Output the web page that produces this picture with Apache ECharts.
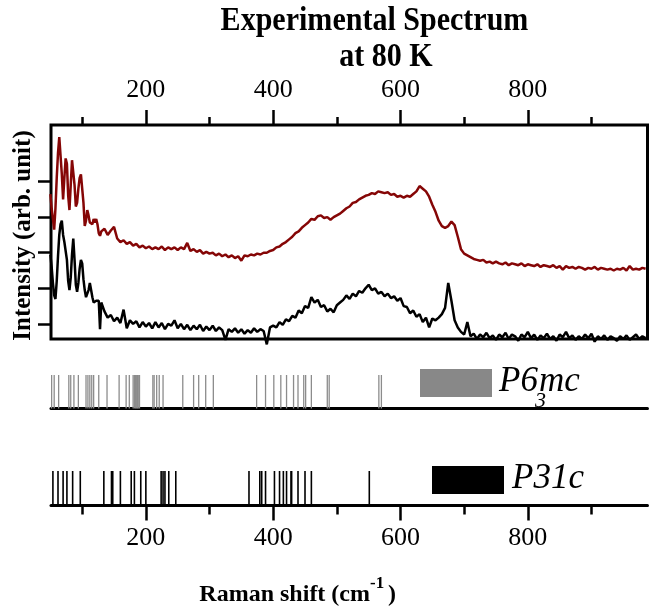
<!DOCTYPE html>
<html>
<head>
<meta charset="utf-8">
<script src="https://cdn.jsdelivr.net/npm/echarts@6/dist/echarts.min.js"></script>
<style>
  html, body { margin: 0; padding: 0; background: #fff; }
  #chart { width: 649px; height: 610px; }
</style>
</head>
<body>
<div id="chart"></div>
<script>
// Raman shift (cm-1) of the measured points
const ramanShift = [
  50, 52, 54, 56, 58, 60, 62, 64, 66, 68,
  70, 72, 74, 76, 78, 80, 82, 84, 86, 88,
  90, 92, 94, 96, 98, 100, 102, 104, 106, 108,
  110, 112, 114, 116, 118, 120, 122, 124, 126, 128,
  130,
  135, 140, 145, 150, 155, 160, 165, 170, 175, 180,
  185, 190, 195, 200, 205, 210, 215, 220, 225, 230,
  235, 240, 245, 250, 255, 260, 265, 270, 275, 280,
  285, 290, 295, 300, 305, 310, 315, 320, 325, 330,
  335, 340, 345, 350, 355, 360, 365, 370, 375, 380,
  385, 390, 395, 400, 405, 410, 415, 420, 425, 430,
  435, 440, 445, 450, 455, 460, 465, 470, 475, 480,
  485, 490, 495, 500, 505, 510, 515, 520, 525, 530,
  535, 540, 545, 550, 555, 560, 565, 570, 575, 580,
  585, 590, 595, 600, 605, 610, 615, 620, 625, 630,
  635, 640, 645, 650, 655, 660, 665, 670, 675, 680,
  685, 690, 695, 700, 705, 710, 715, 720, 725, 730,
  735, 740, 745, 750, 755, 760, 765, 770, 775, 780,
  785, 790, 795, 800, 805, 810, 815, 820, 825, 830,
  835, 840, 845, 850, 855, 860, 865, 870, 875, 880,
  885, 890, 895, 900, 905, 910, 915, 920, 925, 930,
  935, 940, 945, 950, 955, 960, 965, 970, 975, 980,
  985
];

// upper trace (dark red), arb. units
const spectrumRed = [
  7.3, 6.5, 5.9, 5.3, 6.5, 8.2, 9.6, 10.5, 10.6, 8.4,
  7.0, 8.2, 9.3, 9.0, 7.2, 6.4, 7.8, 9.2, 9.3, 7.8,
  6.6, 6.8, 7.6, 8.2, 8.4, 8.3, 6.8, 5.5, 5.8, 6.4,
  6.1, 5.7, 5.8, 5.6, 5.9, 5.7, 5.9, 5.6, 5.1, 4.95,
  5.2,
  5.35, 5.0, 5.25, 5.45, 4.8, 4.6, 4.7, 4.5, 4.6, 4.4,
  4.5, 4.3, 4.4, 4.25, 4.35, 4.2, 4.3, 4.2, 4.35, 4.15,
  4.3, 4.2, 4.3, 4.15, 4.3, 4.2, 4.55, 4.1, 4.2, 4.05,
  4.15, 3.95, 4.05, 3.95, 4.0, 3.85, 3.95, 3.8, 3.9, 3.75,
  3.85, 3.7, 3.8, 3.55, 3.85, 3.8, 3.9, 3.85, 3.95, 3.9,
  4.0, 4.0, 4.1, 4.15, 4.3, 4.35, 4.5, 4.6, 4.75, 4.9,
  5.1, 5.2, 5.4, 5.55, 5.7, 5.9, 5.85, 6.05, 6.1, 5.95,
  6.0, 5.85, 6.0, 6.1, 6.2, 6.35, 6.5, 6.6, 6.8, 6.85,
  7.0, 7.1, 7.2, 7.25, 7.35, 7.3, 7.45, 7.4, 7.35, 7.4,
  7.25, 7.3, 7.15, 7.2, 7.1, 7.2, 7.15, 7.3, 7.45, 7.75,
  7.6, 7.45, 7.15, 6.7, 6.3, 5.8, 5.5, 5.4, 5.5, 5.75,
  5.55, 4.9, 4.2, 3.95, 3.85, 3.75, 3.65, 3.6, 3.55, 3.6,
  3.45, 3.5, 3.4, 3.5, 3.4, 3.35, 3.45, 3.3, 3.4, 3.35,
  3.3, 3.4, 3.25, 3.35, 3.3, 3.25, 3.35, 3.2, 3.3, 3.25,
  3.2, 3.3, 3.15, 3.25, 3.05, 3.25, 3.15, 3.2, 3.1, 3.2,
  3.15, 3.05, 3.15, 3.1, 3.2, 3.05, 3.15, 3.1, 3.05, 3.1,
  3.0, 3.1, 3.05, 3.15, 3.0, 3.25, 3.05, 3.1, 3.05, 3.15,
  3.1
];

// lower trace (black), arb. units
const spectrumBlack = [
  3.9, 3.2, 2.3, 1.6, 1.4, 2.4, 3.8, 5.0, 5.6, 5.8,
  5.0, 4.6, 4.7, 3.6, 2.4, 1.9, 2.6, 3.9, 4.8, 3.6,
  2.2, 1.8, 2.3, 3.1, 3.6, 3.4, 2.5, 1.9, 1.5, 1.4,
  1.9, 2.3, 1.9, 1.5, 1.2, 1.1, 1.3, 1.4, 1.3, -0.3,
  1.2,
  0.7, 0.35, 0.5, 0.15, 0.35, 0.05, 0.8, -0.25, 0.2, 0.0,
  0.15, -0.2, 0.1, -0.15, 0.05, -0.25, 0.1, -0.2, 0.05, -0.3,
  0.0, -0.1, 0.2, -0.25, 0.0, -0.3, -0.05, -0.35, -0.1, -0.3,
  -0.05, -0.4, -0.15, -0.35, -0.1, -0.4, -0.2, -0.35, -0.9, -0.3,
  -0.45, -0.25, -0.5, -0.3, -0.55, -0.35, -0.5, -0.25, -0.45, -0.3,
  -0.4, -1.15, -0.2, -0.1, -0.2, 0.1, -0.05, 0.25, 0.15, 0.45,
  0.35, 0.75, 0.6, 1.0, 0.9, 1.5, 1.2, 1.35, 0.95, 1.05,
  0.7, 0.85, 0.65, 1.05, 1.2, 1.35, 1.6, 1.4, 1.7, 1.55,
  1.85, 1.75, 2.0, 2.2, 1.9, 2.0, 1.7, 1.8, 1.55, 1.7,
  1.45, 1.55, 1.3, 1.45, 1.0, 0.95, 0.6, 0.75, 0.4, 0.55,
  0.1, 0.35, -0.2, 0.3, 0.2, 0.35, 0.55, 0.9, 2.3, 1.3,
  0.2, -0.2, -0.45, -0.6, 0.1, -0.7, -0.55, -0.85, -0.6, -0.75,
  -0.5, -0.8, -0.65, -0.9, -0.6, -0.75, -0.5, -0.85, -0.6, -0.7,
  -0.95, -0.6, -0.75, -0.45, -0.8, -0.6, -0.9, -0.65, -0.8, -0.55,
  -0.85, -0.7, -0.95, -0.6, -0.75, -0.45, -0.8, -0.65, -0.9, -0.7,
  -0.85, -0.6, -0.8, -0.55, -1.0, -0.7, -0.85, -0.65, -0.9, -0.7,
  -0.8, -0.95, -0.7, -0.85, -0.65, -0.9, -0.75, -0.6, -0.85, -0.7,
  -0.8
];

// calculated mode positions (cm-1)
const modesP63mc = [
  52, 56, 63, 79, 82, 87, 94, 106, 109, 112, 115, 118, 126, 139,
  158, 169, 174, 180, 182, 184, 185, 187, 188, 190,
  211, 213, 217, 221, 227, 258, 275, 283, 294, 306,
  374, 388, 401, 412, 421, 432, 439, 448, 451, 460, 485, 488, 566, 570
];
const modesP31c = [
  54, 62, 70, 76, 85, 97, 134, 146, 148, 160, 177, 182, 192, 200,
  224, 227, 230, 236, 247, 362, 379, 382, 388, 402, 410, 416, 421,
  428, 429, 439, 450, 460, 551
];

const shiftMajor = [200, 400, 600, 800];
const shiftMinor = [100, 300, 500, 700, 900];
const intensityMajor = [0, 2, 4, 6, 8];
const intensityMinor = [1, 3, 5, 7];

const X_MIN = 51, X_MAX = 988;
const SERIF = '"Liberation Serif", "Times New Roman", serif';

function shiftAxis(gridIndex, position, extra) {
  return Object.assign({
    type: 'value', gridIndex, position, min: X_MIN, max: X_MAX,
    axisLine: { show: false, onZero: false },
    axisTick: { show: false },
    axisLabel: { show: false },
    splitLine: { show: false }
  }, extra);
}

function ticks(values, length) {
  return { show: true, customValues: values, length, lineStyle: { color: '#000', width: 2.5 } };
}

const shiftLabels = {
  show: true, customValues: shiftMajor, color: '#000',
  fontFamily: SERIF, fontSize: 26
};

// text helper: element-level transform so glyphs can be squeezed like the original
function label(text, x, y, font, extra) {
  return Object.assign({
    type: 'text', x, y,
    style: Object.assign({ text, x: 0, y: 0, align: 'left', verticalAlign: 'middle', fontFamily: SERIF, fill: '#000' }, font)
  }, extra);
}

const chart = echarts.init(document.getElementById('chart'), null, { renderer: 'canvas' });

chart.setOption({
  animation: false,
  backgroundColor: '#fff',
  grid: [
    { left: 51, right: 1.5, top: 125, height: 214, show: true, borderColor: '#000', borderWidth: 3, outerBoundsMode: 'none' },
    { left: 51, right: 1.5, top: 375, height: 33.5, outerBoundsMode: 'none' },
    { left: 51, right: 1.5, top: 471, height: 34.5, outerBoundsMode: 'none' }
  ],
  xAxis: [
    shiftAxis(0, 'top', { axisTick: ticks(shiftMajor, 15), axisLabel: Object.assign({ margin: 22 }, shiftLabels) }),
    shiftAxis(0, 'top', { axisTick: ticks(shiftMinor, 8) }),
    shiftAxis(1, 'bottom', { axisLine: { show: true, onZero: false, lineStyle: { color: '#000', width: 3 } } }),
    shiftAxis(2, 'bottom', {
      axisLine: { show: true, onZero: false, lineStyle: { color: '#000', width: 3 } },
      axisTick: ticks(shiftMajor, 15),
      axisLabel: Object.assign({ margin: 20 }, shiftLabels)
    }),
    shiftAxis(2, 'bottom', { axisTick: ticks(shiftMinor, 9) })
  ],
  yAxis: [
    { type: 'value', gridIndex: 0, min: -0.85, max: 11.18,
      axisLine: { show: false, onZero: false }, axisLabel: { show: false }, splitLine: { show: false },
      axisTick: ticks(intensityMajor, 13) },
    { type: 'value', gridIndex: 0, min: -0.85, max: 11.18,
      axisLine: { show: false, onZero: false }, axisLabel: { show: false }, splitLine: { show: false },
      axisTick: ticks(intensityMinor, 8) },
    { type: 'value', gridIndex: 1, min: 0, max: 1, show: false },
    { type: 'value', gridIndex: 2, min: 0, max: 1, show: false }
  ],
  series: [
    {
      type: 'line', xAxisIndex: 0, yAxisIndex: 0, clip: false, silent: true,
      symbol: 'none', lineStyle: { color: '#850606', width: 2.5 },
      data: ramanShift.map((x, i) => [x, spectrumRed[i]])
    },
    {
      type: 'line', xAxisIndex: 0, yAxisIndex: 0, clip: false, silent: true,
      symbol: 'none', lineStyle: { color: '#000', width: 2.5 },
      data: ramanShift.map((x, i) => [x, spectrumBlack[i]])
    },
    {
      type: 'bar', xAxisIndex: 2, yAxisIndex: 2, barWidth: 1.3, silent: true,
      itemStyle: { color: '#8c8c8c' },
      data: modesP63mc.map(v => [v, 1])
    },
    {
      type: 'bar', xAxisIndex: 3, yAxisIndex: 3, barWidth: 1.6, silent: true,
      itemStyle: { color: '#000' },
      data: modesP31c.map(v => [v, 1])
    }
  ],
  graphic: [
    label('Experimental Spectrum', 374.5, 21, { align: 'center', fontWeight: 'bold', fontSize: 33 }, { scaleX: 0.91 }),
    label('at 80 K', 386, 57.5, { align: 'center', fontWeight: 'bold', fontSize: 33 }, { scaleX: 0.91 }),
    label('Intensity (arb. unit)', 24, 235.5, { align: 'center', fontWeight: 'bold', fontSize: 25 }, { rotation: Math.PI / 2 }),
    label('Raman shift (cm', 370, 594.5, { align: 'right', fontWeight: 'bold', fontSize: 24 }),
    label('-1', 370, 584, { fontWeight: 'bold', fontSize: 17 }),
    label(')', 388, 594.5, { fontWeight: 'bold', fontSize: 24 }),
    // legend swatches
    { type: 'rect', shape: { x: 420, y: 369, width: 72, height: 28 }, style: { fill: '#888' } },
    label('P6', 499, 382, { fontStyle: 'italic', fontSize: 35 }),
    label('3', 535, 401, { fontStyle: 'italic', fontSize: 22 }),
    label('mc', 539, 382, { fontStyle: 'italic', fontSize: 35 }),
    { type: 'rect', shape: { x: 432, y: 466, width: 72, height: 28 }, style: { fill: '#000' } },
    label('P31c', 512, 479, { fontStyle: 'italic', fontSize: 35 })
  ]
});
</script>
</body>
</html>
